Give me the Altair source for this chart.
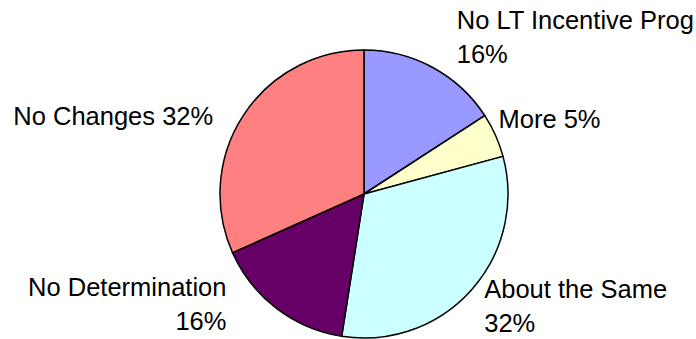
import altair as alt
import pandas as pd

# Survey answers, clockwise from 12 o'clock
categories = ["No LT Incentive Prog", "More", "About the Same", "No Determination", "No Changes"]
shares = [16, 5, 32, 16, 32]
label_texts = ["No LT Incentive Prog\n16%", "More 5%", "About the Same\n32%",
               "No Determination\n16%", "No Changes 32%"]
colors = ["#9999FF", "#FFFFCC", "#CCFFFF", "#660066", "#FF8080"]

df = pd.DataFrame({
    "idx": list(range(len(categories))),
    "category": categories,
    "share": shares,
    "label": label_texts,
})

total = sum(shares)
theta_scale = alt.Scale(domain=[0, total], range=[0, 6.283185307179586])
cx, cy, R = 364, 194, 144
FONT = "Liberation Sans"

base = alt.Chart(df)

pie = base.mark_arc(radius=R, stroke="black", strokeWidth=1.5).encode(
    x=alt.value(cx),
    y=alt.value(cy),
    theta=alt.Theta("start:Q", scale=theta_scale, stack=None),
    theta2="end:Q",
    color=alt.Color("category:N", scale=alt.Scale(domain=categories, range=colors), legend=None),
)


def label(cat, align, dx, dy):
    return base.transform_filter(alt.datum.category == cat).mark_text(
        radius=R, align=align, baseline="alphabetic", dx=dx, dy=dy,
        font=FONT, fontSize=25.5, lineHeight=34, color="black", lineBreak="\n",
    ).encode(
        x=alt.value(cx),
        y=alt.value(cy),
        theta=alt.Theta("mid:Q", scale=theta_scale, stack=None),
        text="label:N",
    )


labels = [
    label("No LT Incentive Prog", "left", 24, -38),
    label("More", "left", 3, -7),
    label("About the Same", "left", 13, 8),
    label("No Determination", "right", -50, -12),
    label("No Changes", "right", -30, 9),
]

chart = alt.layer(pie, *labels).transform_window(
    end="sum(share)", sort=[alt.SortField("idx")], frame=[None, 0]
).transform_calculate(
    start="datum.end - datum.share",
    mid="datum.end - datum.share / 2",
).properties(
    width=696, height=339, autosize=alt.AutoSizeParams(type="none"), padding=0,
).configure_view(stroke=None)

chart.save("out.html", embed_options={"renderer": "svg", "actions": False})
